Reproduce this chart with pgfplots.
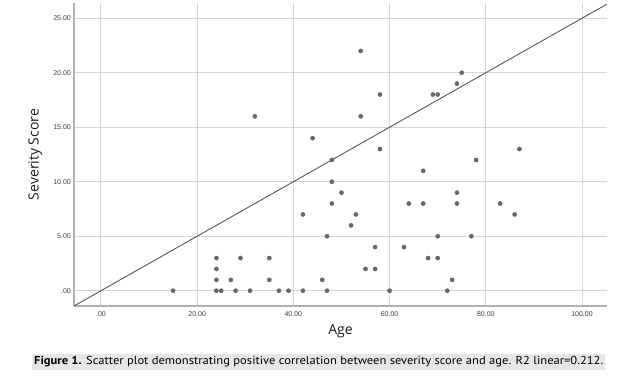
\documentclass[border=0pt]{standalone}
\usepackage{pgfplots}
\pgfplotsset{compat=1.18}
\usepackage{fontspec}
\usepackage{graphicx}
\setmainfont{Open Sans}
\newfontfamily\ptsans{PT Sans}
\newfontfamily\tickfont{Liberation Sans}
\definecolor{dotc}{HTML}{666666}
\definecolor{gridc}{HTML}{D6D6D6}
\definecolor{axc}{HTML}{B0B0B0}
\definecolor{capbg}{HTML}{E6E6E6}
\definecolor{linec}{HTML}{555555}
\begin{document}
\begin{tikzpicture}
\path[use as bounding box] (0,0) rectangle (624pt,379pt);
\begin{axis}[
  at={(74pt,73pt)}, anchor=south west,
  scale only axis, width=533pt, height=303pt,
  xmin=-5.6, xmax=105.2, ymin=-1.4, ymax=26.4,
  axis lines=left, axis line style={-, color=axc, line width=1.1pt},
  xtick={0,20,40,60,80,100},
  xticklabels={.00,20.00,40.00,60.00,80.00,100.00},
  ytick={0,5,10,15,20,25},
  yticklabels={.00,5.00,10.00,15.00,20.00,25.00},
  major tick length=0pt,
  /pgf/number format/assume math mode=true,
  ticklabel style={font=\tickfont\fontsize{7}{8}\selectfont, text=black!75},
  xticklabel style={anchor=center, yshift=-8pt},
  yticklabel style={anchor=east, inner sep=0pt, xshift=-3pt},
  grid=major, major grid style={color=gridc, line width=0.9pt},
  xlabel={Age}, ylabel={Severity Score},
  label style={font=\fontsize{14}{16}\selectfont, text=black!90},
  xlabel style={at={(axis description cs:0.5,-0.0825)}, anchor=center},
  ylabel style={at={(axis description cs:-0.073,0.5)}, anchor=center},
  clip=true,
]
\addplot[linec, line width=0.9pt] coordinates {(-5.6,-1.4) (105.6,26.4)};
\addplot[color=dotc, only marks, mark=*, mark size=2.1pt, mark options={solid, fill=dotc, draw=dotc, line width=0.4pt}] coordinates {
(15,0) (24,3) (24,2) (24,1) (24,0) (25,0) (27,1) (28,0) (29,3) (31,0)
(32,16) (35,3) (35,1) (37,0) (39,0) (42,0) (42,7) (44,14) (46,1) (47,5)
(47,0) (48,12) (48,10) (48,8) (50,9) (52,6) (53,7) (54,22) (54,16) (55,2)
(57,4) (57,2) (58,18) (58,13) (60,0) (63,4) (64,8) (67,11) (67,8) (68,3)
(69,18) (70,18) (70,5) (70,3) (72,0) (73,1) (74,19) (74,9) (74,8) (75,20)
(77,5) (78,12) (83,8) (86,7) (87,13)
};
\end{axis}
\fill[capbg] (32pt,9pt) rectangle (605pt,25pt);
\node[anchor=west, inner sep=0pt] at (34pt,17pt) {\resizebox{569pt}{\height}{\ptsans\fontsize{11.5}{13}\selectfont\textbf{Figure 1.} Scatter plot demonstrating positive correlation between severity score and age. R2 linear=0.212.}};
\end{tikzpicture}
\end{document}
